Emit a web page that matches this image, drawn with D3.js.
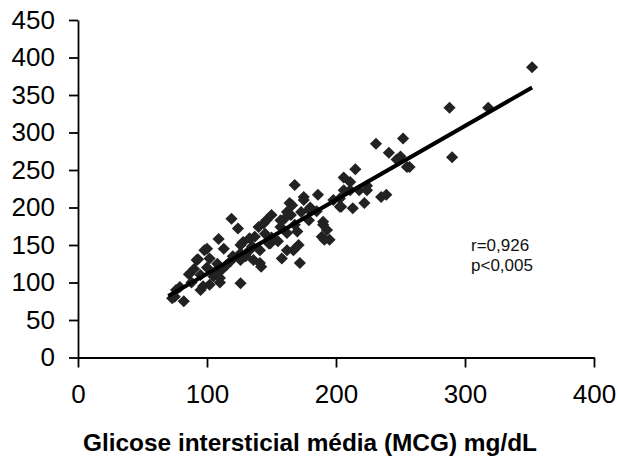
<!DOCTYPE html>
<html>
<head>
<meta charset="utf-8">
<script src="https://cdn.jsdelivr.net/npm/d3@7"></script>
<style>
  body { margin: 0; background: #fff; }
  svg { display: block; }
</style>
</head>
<body>
<div id="chart"></div>
<script>
// MCG (x) vs reference glucose (y)
const mcg = [73, 75, 76, 79, 82, 86, 92, 93, 95, 95, 97, 98, 100, 102, 102, 106, 105, 109, 110, 110,
    113, 115, 119, 124, 126, 126, 126, 126, 128, 133, 133, 136, 137, 140, 141, 141, 142, 144, 146, 148,
    149, 150, 157, 157, 158, 162, 162, 162, 164, 166, 167, 168, 168, 170, 171, 172, 173, 175, 175, 179,
    179, 186, 189, 190, 190, 191, 193, 195, 203, 203, 204, 206, 206, 211, 211, 213, 215, 218, 222, 224,
    224, 231, 235, 239, 241, 247, 250, 252, 255, 257, 288, 290, 318, 352,
    88, 90, 100, 108, 112, 118, 120, 130, 135, 145, 150, 155, 160, 165, 180, 185, 198];
const glucose = [79, 81, 90, 94, 75, 111, 130, 131, 110, 90, 95, 143, 145, 132, 97, 114, 108, 158, 100, 106,
    145, 123, 185, 172, 99, 150, 130, 139, 154, 159, 143, 130, 161, 174, 143, 126, 121, 179, 183, 152,
    152, 190, 183, 174, 132, 194, 166, 143, 206, 203, 143, 230, 177, 168, 150, 126, 194, 214, 210, 183,
    197, 217, 161, 177, 181, 157, 170, 157, 212, 201, 201, 240, 223, 234, 223, 199, 251, 223, 206, 229,
    223, 285, 214, 217, 273, 264, 268, 292, 254, 254, 333, 267, 333, 387,
    100, 118, 120, 125, 118, 128, 135, 135, 148, 165, 160, 155, 185, 190, 200, 195, 210];

// regression line ends
const trendX = [70, 352];
const trendY = [82, 360];

const xTicks = [0, 100, 200, 300, 400];
const yTicks = [0, 50, 100, 150, 200, 250, 300, 350, 400, 450];

const xTitle = 'Glicose intersticial média (MCG) mg/dL';
const statLines = ['r=0,926', 'p<0,005'];

const width = 618, height = 461;
const plotLeft = 78, plotRight = 594, plotTop = 20, plotBottom = 357.5;

const svg = d3.select('#chart')
    .append('svg')
        .attr('width', width)
        .attr('height', height)
        .style('font-family', '"Liberation Sans", Arial, sans-serif');

const x = d3.scaleLinear().domain([0, 400]).range([plotLeft, plotRight]);
const y = d3.scaleLinear().domain([0, 450]).range([plotBottom, plotTop]);

const xAxis = svg.append('g')
    .attr('transform', `translate(0,${plotBottom})`)
    .call(d3.axisBottom(x).tickValues(xTicks).tickSize(10).tickPadding(17).tickSizeOuter(0));

const yAxis = svg.append('g')
    .attr('transform', `translate(${plotLeft},0)`)
    .call(d3.axisLeft(y).tickValues(yTicks).tickSize(9).tickPadding(14).tickSizeOuter(0));

[xAxis, yAxis].forEach(g => {
    g.select('.domain').attr('stroke', '#000').attr('stroke-width', 1.8);
    g.selectAll('.tick line').attr('stroke', '#000').attr('stroke-width', 1.8);
    g.selectAll('.tick text')
        .attr('fill', '#000')
        .style('font-size', '26px')
        .style('font-family', '"Liberation Sans", Arial, sans-serif');
});

const pts = mcg.map((v, i) => ({x: v, y: glucose[i]}));
const diamond = d3.symbol().type(d3.symbolSquare).size(74);

svg.append('g')
    .selectAll('path')
    .data(pts)
    .join('path')
        .attr('d', diamond)
        .attr('transform', d => `translate(${x(d.x)},${y(d.y)}) rotate(45)`)
        .attr('fill', '#222');

svg.append('line')
    .attr('x1', x(trendX[0]))
    .attr('y1', y(trendY[0]))
    .attr('x2', x(trendX[1]))
    .attr('y2', y(trendY[1]))
    .attr('stroke', '#000')
    .attr('stroke-width', 4);

svg.append('text')
    .attr('x', 310)
    .attr('y', 451)
    .attr('text-anchor', 'middle')
    .style('font-size', '24.4px')
    .style('font-weight', 'bold')
    .text(xTitle);

svg.selectAll('.stat')
    .data(statLines)
    .join('text')
        .attr('class', 'stat')
        .attr('x', 471)
        .attr('y', (d, i) => 251 + i * 20)
        .style('font-size', '17px')
        .attr('fill', '#111')
        .text(d => d);
</script>
</body>
</html>
